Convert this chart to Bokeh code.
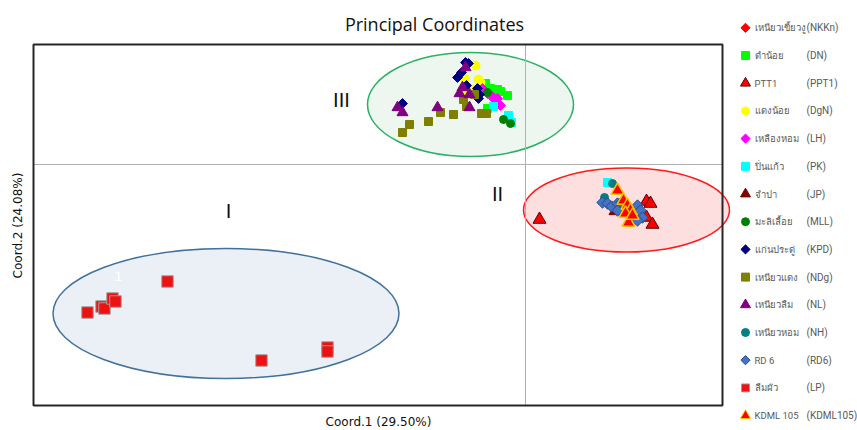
import math
from bokeh.plotting import figure
from bokeh.layouts import row
from bokeh.models import Range1d, Label
from bokeh.core.properties import value
from bokeh.embed import file_html
from bokeh.resources import INLINE

# ---------------- data ----------------
codes = ["NKKn", "DN", "PPT1", "DgN", "LH", "PK", "JP", "MLL", "KPD", "NDg", "NL", "NH", "RD6", "LP", "KDML105"]
names = ["เหนียวเขี้ยวงู", "ดำน้อย", "PTT1", "แดงน้อย", "เหลืองหอม", "ปิ่นแก้ว", "จำปา", "มะลิเลื้อย",
         "แก่นประดู่", "เหนียวแดง", "เหนียวลืม", "เหนียวหอม", "RD 6", "ลืมผัว", "KDML 105"]

nkkn_x = [0.100, 0.104]
nkkn_y = [-0.043, -0.047]
dn_x = [-0.040, -0.035, -0.025, -0.018, -0.038, -0.028]
dn_y = [0.081, 0.076, 0.073, 0.069, 0.056, 0.075]
ppt1_x = [0.014, 0.121, 0.125, 0.121, 0.127]
ppt1_y = [-0.055, -0.037, -0.039, -0.053, -0.060]
dgn_x = [-0.050, -0.061, -0.047, -0.045, -0.052, -0.060]
dgn_y = [0.099, 0.086, 0.085, 0.082, 0.075, 0.072]
lh_x = [-0.043, -0.038, -0.033, -0.028, -0.025, -0.032]
lh_y = [0.076, 0.071, 0.068, 0.066, 0.059, 0.066]
pk_x = [-0.032, -0.017, -0.014, 0.082]
pk_y = [0.058, 0.049, 0.042, -0.018]
jp_x = [0.089, 0.095]
jp_y = [-0.047, -0.041]
mll_x = [-0.038, -0.022, -0.015]
mll_y = [0.072, 0.045, 0.041]
kpd_x = [-0.060, -0.057, -0.064, -0.068, -0.059, -0.048, -0.046, -0.047, -0.123]
kpd_y = [0.102, 0.101, 0.092, 0.087, 0.079, 0.076, 0.070, 0.066, 0.061]
ndg_x = [-0.123, -0.116, -0.097, -0.085, -0.072, -0.062, -0.059, -0.044, -0.039, -0.051]
ndg_y = [0.032, 0.040, 0.043, 0.052, 0.050, 0.065, 0.058, 0.051, 0.051, 0.070]
nl_x = [-0.060, -0.063, -0.066, -0.056, -0.056, -0.088, -0.128, -0.123]
nl_y = [0.097, 0.077, 0.071, 0.070, 0.057, 0.057, 0.057, 0.052]
nh_x = [0.087, 0.079]
nh_y = [-0.019, -0.033]
rd6_x = [0.077, 0.082, 0.086, 0.092, 0.096, 0.092, 0.112, 0.115, 0.117, 0.112]
rd6_y = [-0.038, -0.039, -0.042, -0.039, -0.038, -0.046, -0.041, -0.046, -0.053, -0.056]
lp_x = [-0.438, -0.424, -0.421, -0.413, -0.410, -0.358, -0.264, -0.198, -0.198]
lp_y = [-0.148, -0.142, -0.144, -0.134, -0.137, -0.117, -0.196, -0.183, -0.187]
kdml_x = [0.092, 0.098, 0.102, 0.105, 0.100, 0.103, 0.107]
kdml_y = [-0.026, -0.036, -0.041, -0.046, -0.049, -0.058, -0.051]

# group ellipses (centre x, centre y, width, height)
group_labels = ["I", "II", "III"]
ell_I = (-0.2995, -0.149, 0.346, 0.130)
ell_II = (0.101, -0.0455, 0.206, 0.084)
ell_III = (-0.055, 0.060, 0.206, 0.104)

# ---------------- styles ----------------
D = math.pi / 4
styles = {
    "NKKn": dict(marker="square", angle=D, size=7, fill_color="#FF0000", line_color="#FF0000"),
    "DN": dict(marker="square", angle=0, size=8, fill_color="#00FF00", line_color="#00FF00"),
    "PPT1": dict(marker="triangle", angle=0, size=13, fill_color="#FF0000", line_color="#5A0000"),
    "DgN": dict(marker="circle", angle=0, size=9, fill_color="#FFFF00", line_color="#FFFF00"),
    "LH": dict(marker="square", angle=D, size=7, fill_color="#FF00FF", line_color="#FF00FF"),
    "PK": dict(marker="square", angle=0, size=8, fill_color="#00FFFF", line_color="#00FFFF"),
    "JP": dict(marker="triangle", angle=0, size=11, fill_color="#800000", line_color="#800000"),
    "MLL": dict(marker="circle", angle=0, size=8, fill_color="#008000", line_color="#008000"),
    "KPD": dict(marker="square", angle=D, size=7, fill_color="#000080", line_color="#000080"),
    "NDg": dict(marker="square", angle=0, size=8, fill_color="#808000", line_color="#808000"),
    "NL": dict(marker="triangle", angle=0, size=11, fill_color="#800080", line_color="#800080"),
    "NH": dict(marker="circle", angle=0, size=8, fill_color="#008080", line_color="#008080"),
    "RD6": dict(marker="square", angle=D, size=8, fill_color="#4472C4", line_color="#2F4A80"),
    "LP": dict(marker="square", angle=0, size=11.5, fill_color="#EE1111", line_color="#A0A0A0"),
    "KDML105": dict(marker="triangle", angle=0, size=13, fill_color="#FF0000", line_color="#FFC000"),
}
legend_sizes = {"square": 8, "circle": 8, "triangle": 10}

series = {
    "NKKn": (nkkn_x, nkkn_y), "DN": (dn_x, dn_y), "PPT1": (ppt1_x, ppt1_y), "DgN": (dgn_x, dgn_y),
    "LH": (lh_x, lh_y), "PK": (pk_x, pk_y), "JP": (jp_x, jp_y), "MLL": (mll_x, mll_y),
    "KPD": (kpd_x, kpd_y), "NDg": (ndg_x, ndg_y), "NL": (nl_x, nl_y), "NH": (nh_x, nh_y),
    "RD6": (rd6_x, rd6_y), "LP": (lp_x, lp_y), "KDML105": (kdml_x, kdml_y),
}

# ---------------- main plot ----------------
box_l, box_r, box_t, box_b = -0.492, 0.197, 0.120, -0.241

p = figure(width=735, height=428, x_range=Range1d(-0.525, 0.210), y_range=Range1d(-0.264, 0.164),
           x_axis_location=None, y_axis_location=None, toolbar_location=None, output_backend="svg",
           min_border=0)
p.grid.visible = False
p.outline_line_color = None

for (cx, cy, w, h), fc, lc in [(ell_I, "#EAF0F6", "#41719C"),
                               (ell_III, "#EDF7EF", "#2AB163"),
                               (ell_II, "#FDDFDF", "#FF1A1A")]:
    p.ellipse(x=[cx], y=[cy], width=[w], height=[h], fill_color=fc, line_color=lc, line_width=1.5)

p.segment(x0=[0, box_l], y0=[box_t, 0], x1=[0, box_r], y1=[box_b, 0], line_color="#B0B0B0", line_width=1)
p.quad(left=[box_l], right=[box_r], top=[box_t], bottom=[box_b], fill_color=None,
       line_color="#262626", line_width=2)

for code in codes:
    xs, ys = series[code]
    st = styles[code]
    lw = 1.5 if code == "KDML105" else 1
    p.scatter(x=xs, y=ys, marker=st["marker"], angle=st["angle"], size=st["size"],
              fill_color=st["fill_color"], line_color=st["line_color"], line_width=lw)

# titles / labels
p.add_layout(Label(x=-0.091, y=0.141, text="Principal Coordinates", text_align="center",
                   text_baseline="middle", text_font="Open Sans", text_font_size="18px", text_color="#111111"))
p.add_layout(Label(x=-0.147, y=-0.257, text="Coord.1 (29.50%)", text_align="center",
                   text_baseline="middle", text_font="DejaVu Sans", text_font_size="12px", text_color="#111111"))
p.add_layout(Label(x=-0.508, y=-0.061, text="Coord.2 (24.08%)", text_align="center", angle=math.pi / 2,
                   text_baseline="middle", text_font="DejaVu Sans", text_font_size="12px", text_color="#111111"))
for txt, (lx, ly) in zip(group_labels, [(-0.297, -0.046), (-0.028, -0.029), (-0.184, 0.065)]):
    p.add_layout(Label(x=lx, y=ly, text=txt, text_align="center", text_baseline="middle",
                       text_font="DejaVu Sans", text_font_size="19px", text_color="#111111"))
p.add_layout(Label(x=-0.407, y=-0.112, text="1", text_align="center", text_baseline="middle",
                   text_font="DejaVu Sans", text_font_size="13px", text_color="#FFFFFF"))

# ---------------- legend panel ----------------
lg = figure(width=122, height=428, x_range=Range1d(0, 122), y_range=Range1d(428, 0),
            x_axis_location=None, y_axis_location=None, toolbar_location=None, output_backend="svg",
            min_border=0)
lg.grid.visible = False
lg.outline_line_color = None

row_y = [27.3 + i * 27.7 for i in range(len(codes))]
for code, yy in zip(codes, row_y):
    st = styles[code]
    sz = legend_sizes[st["marker"]] - (1.5 if st["angle"] else 0)
    lg.scatter(x=[10], y=[yy], marker=st["marker"], angle=st["angle"], size=sz,
               fill_color=st["fill_color"], line_color=st["line_color"], line_width=1)
lg.text(x=[19] * len(codes), y=row_y, text=names, text_font=value("Roboto"),
        text_font_size=value("9.5px"), text_color="#595959", text_baseline="middle")
lg.text(x=[71] * len(codes), y=row_y, text=["(" + c + ")" for c in codes], text_font=value("Roboto"),
        text_font_size=value("10px"), text_color="#595959", text_baseline="middle")

layout = row(p, lg)
open("out.html", "w").write(file_html(layout, INLINE))
